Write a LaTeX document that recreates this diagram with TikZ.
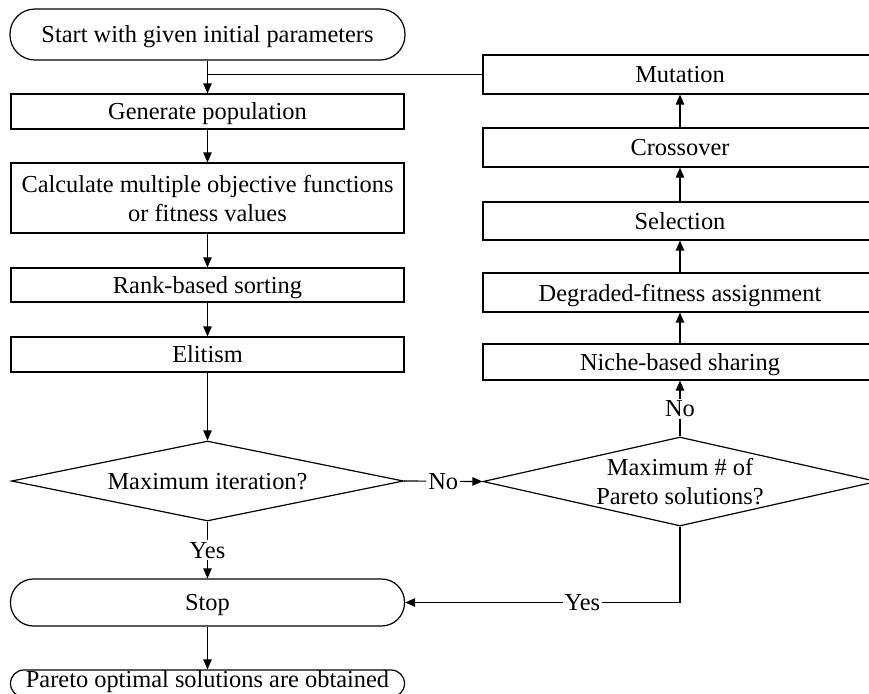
\documentclass[tikz,border=0pt]{standalone}
\usepackage{fontspec}
\setmainfont{Liberation Serif}
\usetikzlibrary{shapes.geometric,arrows.meta}
\begin{document}
\begin{tikzpicture}[x=0.5pt,y=-0.5pt,
  every node/.style={font=\fontsize{12.2}{14.6}\selectfont, inner sep=0pt, align=center, text depth=0pt},
  box/.style={draw, rectangle, line width=0.6pt, minimum width=#1},
  box/.default=196.5pt,
  term/.style={draw, rectangle, rounded corners=11pt, line width=0.6pt, minimum width=197.5pt},
  dec/.style={draw, diamond, line width=0.6pt},
  arr/.style={line width=0.6pt, -{Triangle[length=5pt,width=4.2pt]}},
  ln/.style={line width=0.6pt},
  lbl/.style={fill=white, inner sep=1pt}]
\clip (0,0) rectangle (869,693);
% left column
\node[term, minimum height=25.5pt, rounded corners=12.5pt] (start) at (207.5,34.5) {Start with given initial parameters};
\node[box, minimum height=17.5pt] (gen) at (207.5,111.5) {Generate population};
\node[box, minimum height=35pt] (calc) at (207.5,198) {Calculate multiple objective functions\\or fitness values};
\node[box, minimum height=17pt] (rank) at (207.5,285) {Rank-based sorting};
\node[box, minimum height=17.5pt] (elit) at (207.5,354.5) {Elitism};
\node[dec, minimum width=196pt, minimum height=40pt, aspect=4.9] (d1) at (207.5,481) {Maximum iteration?};
\node[term, minimum height=23.5pt, rounded corners=11.5pt, minimum width=197pt] (stop) at (207.5,602.5) {Stop};
\node[term, minimum height=13.5pt, rounded corners=6.7pt, minimum width=197pt, text depth=4.9pt] (pareto) at (207.5,683.5) {Pareto optimal solutions are obtained};
% right column
\node[box=197pt, minimum height=19.5pt] (mut) at (680,74.5) {Mutation};
\node[box=197pt, minimum height=19.5pt] (cross) at (680,147.5) {Crossover};
\node[box=197pt, minimum height=19pt] (sel) at (680,221) {Selection};
\node[box=197pt, minimum height=19.5pt] (deg) at (680,292.5) {Degraded-fitness assignment};
\node[box=197pt, minimum height=18pt] (niche) at (680,362) {Niche-based sharing};
\node[dec, minimum width=197pt, minimum height=44.5pt, aspect=4.4] (d2) at (680,481.5) {Maximum \# of\\Pareto solutions?};
% connectors
\coordinate (join) at (207.5,74.5);
\coordinate (ycorner) at (680,602.5);
\draw[arr] (start.south) -- (gen.north);
\draw[ln] (mut.west) -- (join);
\draw[arr] (gen.south) -- (calc.north);
\draw[arr] (calc.south) -- (rank.north);
\draw[arr] (rank.south) -- (elit.north);
\draw[arr] (elit.south) -- (d1.north);
\draw[arr] (d1.south) -- node[lbl]{Yes} (stop.north);
\draw[arr] (stop.south) -- (pareto.north);
\draw[arr] (d1.east) -- node[lbl]{No} (d2.west);
\draw[arr] (d2.north) -- node[lbl]{No} (niche.south);
\draw[arr] (niche.north) -- (deg.south);
\draw[arr] (deg.north) -- (sel.south);
\draw[arr] (sel.north) -- (cross.south);
\draw[arr] (cross.north) -- (mut.south);
\draw[ln] (d2.south) -- (ycorner);
\draw[arr] (ycorner) -- node[lbl, pos=0.355]{Yes} (stop.east);
\end{tikzpicture}
\end{document}
